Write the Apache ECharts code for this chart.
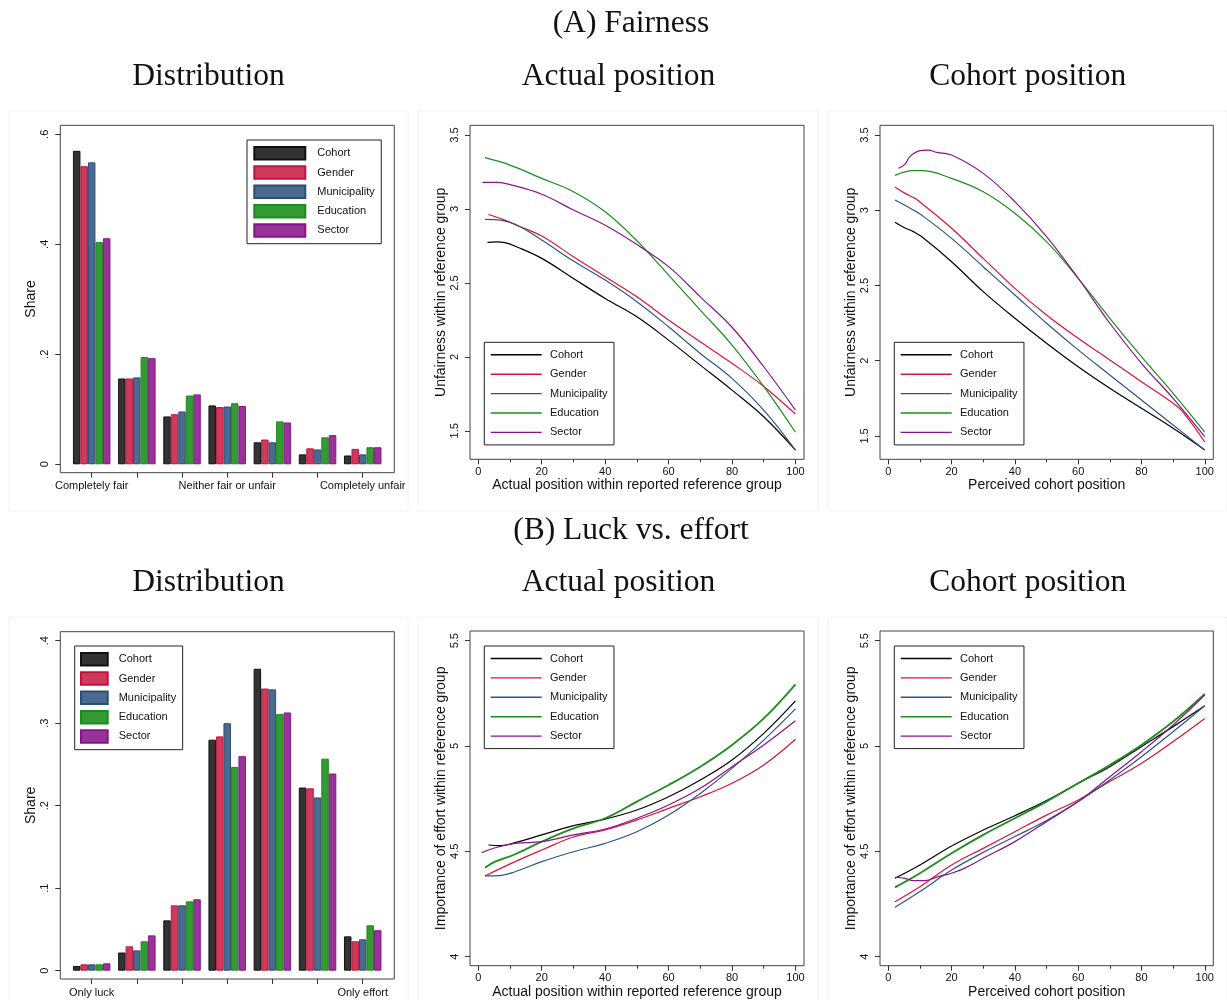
<!DOCTYPE html>
<html>
<head>
<meta charset="utf-8">
<script src="https://cdn.jsdelivr.net/npm/echarts@6/dist/echarts.min.js"></script>
<style>html,body{margin:0;padding:0;background:#fff}#c{width:1227px;height:1000px}</style>
</head>
<body>
<div id="c"></div>
<script>
// ---------------- DATA ----------------
const groups = ['Cohort', 'Gender', 'Municipality', 'Education', 'Sector'];

// (A) Fairness distribution (7 answer categories)
const fairCats = ['Completely fair', '', '', 'Neither fair or unfair', '', '', 'Completely unfair'];
const fairCohort = [0.570, 0.156, 0.087, 0.107, 0.040, 0.018, 0.016];
const fairGender = [0.542, 0.156, 0.091, 0.104, 0.045, 0.029, 0.028];
const fairMunicipality = [0.549, 0.158, 0.096, 0.105, 0.040, 0.027, 0.018];
const fairEducation = [0.404, 0.195, 0.125, 0.111, 0.078, 0.049, 0.031];
const fairSector = [0.411, 0.193, 0.127, 0.106, 0.076, 0.053, 0.031];

// (B) Luck vs effort distribution
const luckCats = ['Only luck', '', '', '', '', '', 'Only effort'];
const luckCohort = [0.0057, 0.022, 0.061, 0.280, 0.366, 0.222, 0.0416];
const luckGender = [0.0077, 0.0295, 0.0792, 0.284, 0.342, 0.221, 0.0356];
const luckMunicipality = [0.0077, 0.0246, 0.0792, 0.300, 0.341, 0.210, 0.038];
const luckEducation = [0.0077, 0.0356, 0.084, 0.247, 0.311, 0.257, 0.055];
const luckSector = [0.0089, 0.0428, 0.0865, 0.260, 0.313, 0.239, 0.049];

// (A) Actual position: [position, unfairness]
const a2Cohort = [[2.9,2.774],[5.8,2.778],[8.4,2.772],[12,2.745],[20,2.666],[30,2.53],[40,2.395],[50,2.271],[60,2.113],[70,1.944],[80,1.775],[90,1.595],[100,1.369]];
const a2Gender = [[3.2,2.963],[8.4,2.925],[12,2.89],[20,2.817],[30,2.677],[40,2.542],[50,2.406],[60,2.249],[70,2.102],[80,1.956],[90,1.80],[100,1.613]];
const a2Municipality = [[2.1,2.93],[7.4,2.923],[12,2.893],[20,2.79],[30,2.648],[40,2.519],[50,2.373],[60,2.203],[70,2.023],[80,1.854],[90,1.64],[100,1.369]];
const a2Education = [[2.1,3.347],[10,3.297],[20,3.207],[30,3.117],[40,2.981],[50,2.785],[60,2.553],[70,2.316],[80,2.08],[90,1.80],[100,1.49]];
const a2Sector = [[1.3,3.18],[6,3.18],[10,3.165],[20,3.10],[30,2.993],[40,2.89],[50,2.76],[60,2.61],[70,2.406],[80,2.20],[90,1.933],[100,1.64]];

// (A) Cohort position
const a3Cohort = [[2.1,2.92],[5,2.885],[7.9,2.858],[10.5,2.825],[20,2.658],[30,2.459],[40,2.282],[50,2.116],[60,1.96],[70,1.817],[80,1.684],[90,1.551],[100,1.407]];
const a3Gender = [[2.1,3.154],[5.3,3.112],[8.4,3.079],[10.5,3.046],[20,2.88],[30,2.68],[40,2.481],[50,2.304],[60,2.149],[70,2.005],[80,1.861],[90,1.717],[93,1.662],[100,1.46]];
const a3Municipality = [[2.1,3.068],[7.9,3.002],[10.5,2.968],[20,2.813],[30,2.625],[40,2.437],[50,2.249],[60,2.072],[70,1.905],[80,1.739],[90,1.573],[100,1.407]];
const a3Education = [[2.1,3.232],[7.9,3.263],[10.5,3.263],[20,3.212],[30,3.123],[40,2.98],[50,2.791],[60,2.548],[70,2.282],[80,2.027],[90,1.783],[100,1.525]];
const a3Sector = [[3.2,3.279],[5.3,3.307],[6.8,3.356],[10,3.396],[12.6,3.40],[15.3,3.385],[20,3.367],[30,3.245],[40,3.057],[50,2.825],[60,2.548],[70,2.249],[80,1.983],[90,1.75],[100,1.495]];

// (B) Actual position: [position, importance of effort]
const b2Cohort = [[3.2,4.53],[6.8,4.527],[11.6,4.541],[20,4.578],[30,4.622],[40,4.653],[50,4.696],[60,4.759],[70,4.839],[80,4.934],[90,5.06],[100,5.214]];
const b2Gender = [[2.1,4.383],[11.6,4.451],[20,4.506],[30,4.568],[40,4.602],[50,4.649],[60,4.704],[70,4.759],[80,4.823],[90,4.91],[100,5.032]];
const b2Municipality = [[2.1,4.383],[6.8,4.385],[11.6,4.403],[20,4.451],[30,4.498],[40,4.538],[50,4.593],[60,4.672],[70,4.775],[80,4.894],[90,5.028],[100,5.176]];
const b2Education = [[2.1,4.422],[5.3,4.451],[11.6,4.486],[20,4.546],[30,4.609],[40,4.657],[50,4.736],[60,4.815],[70,4.902],[80,5.005],[90,5.131],[100,5.293]];
const b2Sector = [[1.1,4.494],[5.3,4.517],[11.6,4.538],[20,4.546],[30,4.578],[40,4.606],[50,4.657],[60,4.72],[70,4.799],[80,4.902],[90,5.005],[100,5.12]];

// (B) Cohort position
const b3Cohort = [[2.1,4.372],[10,4.435],[20,4.525],[30,4.601],[40,4.669],[50,4.741],[60,4.823],[70,4.902],[80,4.997],[90,5.092],[100,5.191]];
const b3Gender = [[2.1,4.261],[10,4.332],[20,4.435],[30,4.514],[40,4.593],[50,4.672],[60,4.744],[70,4.831],[80,4.918],[90,5.021],[100,5.131]];
const b3Municipality = [[2.1,4.234],[10,4.309],[20,4.411],[30,4.495],[40,4.57],[50,4.646],[60,4.736],[70,4.839],[80,4.949],[90,5.068],[100,5.191]];
const b3Education = [[2.1,4.329],[10,4.396],[20,4.491],[30,4.578],[40,4.657],[50,4.736],[60,4.823],[70,4.91],[80,5.005],[90,5.116],[100,5.247]];
const b3Sector = [[2.1,4.377],[5.3,4.372],[7.9,4.361],[11.6,4.361],[15.8,4.38],[20,4.396],[24,4.419],[30,4.467],[40,4.546],[50,4.641],[60,4.736],[70,4.854],[80,4.973],[90,5.1],[100,5.242]];

// tick values and labels
const shareTicksA = [0, 0.2, 0.4, 0.6];
const shareLabelsA = ['0', '.2', '.4', '.6'];
const shareTicksB = [0, 0.1, 0.2, 0.3, 0.4];
const shareLabelsB = ['0', '.1', '.2', '.3', '.4'];
const unfairTicks = [1.5, 2, 2.5, 3, 3.5];
const unfairLabels = ['1.5', '2', '2.5', '3', '3.5'];
const effortTicks = [4, 4.5, 5, 5.5];
const effortLabels = ['4', '4.5', '5', '5.5'];
const posTicks = [0, 20, 40, 60, 80, 100];
const posLabels = ['0', '20', '40', '60', '80', '100'];
const posMinorTicks = [10, 30, 50, 70, 90];

// ---------------- STYLE ----------------
const SANS = '"Liberation Sans", Arial, Helvetica, sans-serif';
const SERIF = '"Liberation Serif", "Times New Roman", serif';
const barFill = ['#333333', '#cd3a5c', '#486b8f', '#349a34', '#993399'];
const barEdge = ['#111111', '#c2123e', '#2c4e74', '#1c8a1c', '#851585'];
const lineCol = ['#000000', '#d8143c', '#2e5587', '#1e8c1e', '#8a148a'];
const FRAME = '#444444';

function fmtFrom(ticks, labels) {
  return function (v) {
    const i = ticks.findIndex(t => Math.abs(t - v) < 1e-6);
    return i < 0 ? '' : labels[i];
  };
}

function yAxisDef(gi, min, max, ticks, labels, name, offset) {
  return {
    type: 'value', gridIndex: gi, min: min, max: max, offset: offset || 0,
    name: name, nameLocation: 'middle', nameGap: 18,
    nameTextStyle: { fontFamily: SANS, fontSize: 14, color: '#111' },
    axisLine: { show: false, onZero: false }, splitLine: { show: false },
    axisTick: { show: true, length: 5, customValues: ticks, lineStyle: { color: '#333' } },
    axisLabel: { customValues: ticks, rotate: 90, margin: 10, fontFamily: SANS, fontSize: 11, color: '#111',
      formatter: fmtFrom(ticks, labels) }
  };
}
function xPosAxis(gi, min, max, name) {
  return {
    type: 'value', gridIndex: gi, min: min, max: max, position: 'bottom',
    name: name, nameLocation: 'middle', nameGap: 19,
    nameTextStyle: { fontFamily: SANS, fontSize: 14, color: '#111' },
    axisLine: { show: false, onZero: false }, splitLine: { show: false },
    axisTick: { show: true, length: 5, customValues: posTicks, lineStyle: { color: '#333' } },
    axisLabel: { customValues: posTicks, margin: 7, fontFamily: SANS, fontSize: 11, color: '#111',
      formatter: fmtFrom(posTicks, posLabels) }
  };
}
function xMinorAxis(gi, min, max) {
  return {
    type: 'value', gridIndex: gi, min: min, max: max, position: 'bottom', offset: 0,
    axisLine: { show: false, onZero: false }, splitLine: { show: false }, axisLabel: { show: false },
    axisTick: { show: true, length: 3, customValues: posMinorTicks, lineStyle: { color: '#333' } }
  };
}
function xCatAxis(gi, cats) {
  return {
    type: 'category', gridIndex: gi, data: cats.map((c, i) => 'c' + i), boundaryGap: true,
    axisLine: { show: false, onZero: false }, splitLine: { show: false },
    axisTick: { show: true, length: 5, alignWithLabel: true, interval: 0, lineStyle: { color: '#333' } },
    axisLabel: { interval: 0, margin: 8, fontFamily: SANS, fontSize: 11, color: '#111',
      formatter: (v, i) => cats[i] }
  };
}

function barSeries(tag, xi, yi, arrays) {
  return arrays.map((arr, k) => ({
    name: groups[k] + '|' + tag, type: 'bar', xAxisIndex: xi, yAxisIndex: yi, data: arr,
    barGap: '0%', barCategoryGap: '17%',
    itemStyle: { color: barFill[k], borderColor: barEdge[k], borderWidth: 1 }
  }));
}
function lineSeries(tag, xi, yi, arrays, eduWidth) {
  return arrays.map((arr, k) => ({
    name: groups[k] + '|' + tag, type: 'line', xAxisIndex: xi, yAxisIndex: yi, data: arr,
    symbol: 'none', showSymbol: false, smooth: 0.4, z: 3,
    lineStyle: { color: lineCol[k], width: (k === 3 ? eduWidth : 1.2) },
    itemStyle: { color: lineCol[k] }
  }));
}
function legendDef(tag, left, top, itemWidth, padLeft, textPad, isBar) {
  return {
    orient: 'vertical', left: left, top: top, selectedMode: false,
    data: groups.map(g => g + '|' + tag), formatter: n => n.split('|')[0],
    icon: 'rect',
    itemWidth: itemWidth, itemHeight: isBar ? 12.5 : 1.4, itemGap: isBar ? 4.8 : 6.4,
    padding: [6, 6.5, 6, padLeft], borderColor: '#222', borderWidth: 1, backgroundColor: '#fff',
    textStyle: { fontFamily: SANS, fontSize: 11, lineHeight: 13, color: '#111', padding: [0, 0, 0, textPad] }
  };
}
function frameGrid(l, t, w, h) {
  return { left: l, top: t, width: w, height: h, show: true, borderColor: FRAME, borderWidth: 1, backgroundColor: '#fff' };
}
function dataGrid(l, t, w, h) {
  return { left: l, top: t, width: w, height: h, show: false };
}
function titleText(txt, x, y) {
  return { type: 'text', x: x, y: y, z: 10,
    style: { text: txt, font: '31.5px ' + SERIF, fill: '#111',
      textAlign: 'center', align: 'center', textVerticalAlign: 'middle', verticalAlign: 'middle' } };
}
function panelBox(x, y, w, h) {
  return { type: 'rect', z: -1, silent: true, shape: { x: x, y: y, width: w, height: h },
    style: { fill: 'none', stroke: '#f0f0f0', lineWidth: 1 } };
}

const XMIN = -2.62, XMAX = 102.7;

const option = {
  animation: false,
  backgroundColor: '#fff',
  grid: [
    frameGrid(60.3, 125.3, 334, 347.4),   // 0 A1 frame
    dataGrid(69.1, 125.3, 316.2, 347.4),  // 1 A1 data
    frameGrid(470, 125.3, 334, 334),      // 2 A2
    frameGrid(880, 125.3, 333.3, 334),    // 3 A3
    frameGrid(60.3, 631.7, 334, 347.3),   // 4 B1 frame
    dataGrid(69.1, 631.7, 316.2, 347.3),  // 5 B1 data
    frameGrid(470, 631, 334, 334.7),      // 6 B2
    frameGrid(880, 631, 333.3, 334.7)     // 7 B3
  ],
  xAxis: [
    xCatAxis(1, fairCats),                                        // 0
    xPosAxis(2, XMIN, XMAX, 'Actual position within reported reference group'), // 1
    xMinorAxis(2, XMIN, XMAX),                                    // 2
    xPosAxis(3, XMIN, XMAX, 'Perceived cohort position'),         // 3
    xMinorAxis(3, XMIN, XMAX),                                    // 4
    xCatAxis(5, luckCats),                                        // 5
    xPosAxis(6, XMIN, XMAX, 'Actual position within reported reference group'), // 6
    xMinorAxis(6, XMIN, XMAX),                                    // 7
    xPosAxis(7, XMIN, XMAX, 'Perceived cohort position'),         // 8
    xMinorAxis(7, XMIN, XMAX)                                     // 9
  ],
  yAxis: [
    yAxisDef(1, -0.0153, 0.6164, shareTicksA, shareLabelsA, 'Share', 8.8),          // 0
    yAxisDef(2, 1.307, 3.566, unfairTicks, unfairLabels, 'Unfairness within reference group'), // 1
    yAxisDef(3, 1.345, 3.5645, unfairTicks, unfairLabels, 'Unfairness within reference group'), // 2
    yAxisDef(5, -0.0101, 0.4109, shareTicksB, shareLabelsB, 'Share', 8.8),          // 3
    yAxisDef(6, 3.957, 5.546, effortTicks, effortLabels, 'Importance of effort within reference group'), // 4
    yAxisDef(7, 3.957, 5.546, effortTicks, effortLabels, 'Importance of effort within reference group')  // 5
  ],
  legend: [
    legendDef('A1', 247, 140, 51, 6.3, 7, true),
    legendDef('A2', 484.3, 342.3, 51, 6.4, 3.3, false),
    legendDef('A3', 894.3, 342.3, 51, 6.4, 3.3, false),
    legendDef('B1', 74.7, 646, 26.7, 5.3, 6, true),
    legendDef('B2', 484.3, 646, 51, 6.4, 3.3, false),
    legendDef('B3', 894.3, 646, 51, 6.4, 3.3, false)
  ],
  series: [].concat(
    barSeries('A1', 0, 0, [fairCohort, fairGender, fairMunicipality, fairEducation, fairSector]),
    lineSeries('A2', 1, 1, [a2Cohort, a2Gender, a2Municipality, a2Education, a2Sector], 1.2),
    lineSeries('A3', 3, 2, [a3Cohort, a3Gender, a3Municipality, a3Education, a3Sector], 1.2),
    barSeries('B1', 5, 3, [luckCohort, luckGender, luckMunicipality, luckEducation, luckSector]),
    lineSeries('B2', 6, 4, [b2Cohort, b2Gender, b2Municipality, b2Education, b2Sector], 1.8),
    lineSeries('B3', 8, 5, [b3Cohort, b3Gender, b3Municipality, b3Education, b3Sector], 1.8)
  ),
  graphic: [
    panelBox(9, 111, 399, 400), panelBox(418, 111, 400, 400), panelBox(828, 111, 399, 400),
    panelBox(9, 617, 399, 400), panelBox(418, 617, 400, 400), panelBox(828, 617, 399, 400),
    titleText('(A) Fairness', 631, 24),
    titleText('Distribution', 208.5, 76.5),
    titleText('Actual position', 618.5, 76.5),
    titleText('Cohort position', 1027.7, 76.5),
    titleText('(B) Luck vs. effort', 631, 531),
    titleText('Distribution', 208.5, 582.5),
    titleText('Actual position', 618.5, 582.5),
    titleText('Cohort position', 1027.7, 582.5)
  ]
};

const chart = echarts.init(document.getElementById('c'), null, { renderer: 'canvas' });
chart.setOption(option);
</script>
</body>
</html>
